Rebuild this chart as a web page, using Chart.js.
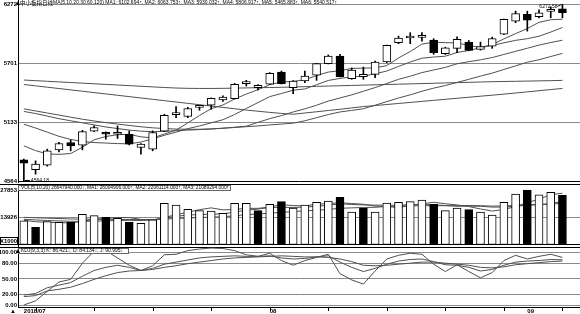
<!DOCTYPE html>
<html>
<head>
<meta charset="utf-8">
<script src="https://cdn.jsdelivr.net/npm/chart.js@4.4.1/dist/chart.umd.min.js"></script>
<style>
html, body { margin: 0; padding: 0; background: #fff; }
#lienzo { position: relative; width: 580px; height: 314px; overflow: hidden; background: #fff; }
#lienzo canvas { position: absolute; left: 0; }
.linea { position: absolute; height: 1px; background: #000; }
</style>
</head>
<body>
<div id="lienzo">
    <canvas id="chartPrecio" width="580" height="183" style="top:0px"></canvas>
    <div class="linea" style="top:184px;left:0;width:580px"></div>
    <canvas id="chartVolumen" width="580" height="62" style="top:185px"></canvas>
    <div class="linea" style="top:247px;left:0;width:580px"></div>
    <canvas id="chartKdj" width="580" height="67" style="top:247px"></canvas>
</div>
<script>
// sesiones del grafico (47 velas + un hueco a la derecha)
const sesiones = Array.from({ length: 48 }, (_, i) => String(i + 1));

// precios diarios
const apertura = [4773, 4677, 4722, 4869, 4940, 4914, 5049, 5037, 5020, 5020, 4892, 4876, 5049, 5210, 5191, 5280,
    5300, 5350, 5364, 5508, 5470, 5502, 5620, 5470, 5534, 5589, 5701, 5774, 5557, 5576, 5598, 5717,
    5903, 5949, 5954, 5928, 5797, 5849, 5909, 5839, 5871, 5986, 6112, 6176, 6154, 6205, 6231];
const maximo = [4780, 4763, 4876, 4943, 4965, 5058, 5100, 5043, 5100, 5052, 4930, 5052, 5213, 5287, 5280, 5300,
    5370, 5390, 5510, 5540, 5500, 5615, 5630, 5538, 5630, 5705, 5785, 5790, 5660, 5668, 5727, 5880,
    5967, 6000, 6000, 5942, 5860, 5961, 5925, 5909, 5957, 6132, 6208, 6208, 6220, 6250, 6272.58];
const minimo = [4564.18, 4635, 4712, 4850, 4860, 4869, 5045, 4972, 4979, 4917, 4828, 4860, 5045, 5181, 5180, 5251,
    5261, 5336, 5360, 5485, 5447, 5500, 5505, 5412, 5518, 5540, 5698, 5572, 5550, 5550, 5566, 5710,
    5894, 5894, 5919, 5791, 5790, 5807, 5825, 5832, 5849, 5980, 6096, 6015, 6143, 6144, 6144];
const cierre = [4741, 4732, 4860, 4931, 4908, 5046, 5085, 5020, 5026, 4923, 4924, 5037, 5203, 5216, 5268, 5286,
    5367, 5379, 5502, 5514, 5492, 5607, 5508, 5534, 5582, 5701, 5774, 5576, 5640, 5598, 5717, 5877,
    5948, 5955, 5960, 5807, 5855, 5935, 5829, 5865, 5942, 6128, 6185, 6121, 6192, 6211, 6192];

// medias moviles del precio
const ma5 = [4908, 4862, 4830, 4826, 4834, 4895, 4966, 4998, 5016, 5019, 4995, 4985, 5022, 5060, 5129, 5201,
    5267, 5302, 5360, 5408, 5450, 5498, 5524, 5530, 5545, 5586, 5620, 5633, 5655, 5658, 5661, 5682,
    5756, 5818, 5890, 5908, 5904, 5901, 5877, 5858, 5885, 5940, 5991, 6040, 6100, 6125, 6130];
const ma10 = [5117, 5080, 5040, 5000, 4970, 4950, 4940, 4935, 4930, 4927, 4945, 4975, 5010, 5040, 5074, 5100,
    5130, 5160, 5210, 5269, 5326, 5383, 5413, 5445, 5457, 5498, 5539, 5559, 5573, 5581, 5603, 5630,
    5674, 5717, 5754, 5765, 5773, 5809, 5828, 5855, 5877, 5902, 5926, 5942, 5966, 6006, 6050];
const ma20 = [5240, 5220, 5195, 5170, 5150, 5130, 5110, 5090, 5075, 5060, 5050, 5045, 5048, 5055, 5060, 5065,
    5070, 5078, 5088, 5098, 5135, 5170, 5200, 5235, 5265, 5300, 5340, 5370, 5400, 5435, 5470, 5510,
    5550, 5580, 5615, 5640, 5665, 5700, 5720, 5738, 5760, 5790, 5820, 5850, 5880, 5905, 5927];
const ma30 = [5265, 5245, 5225, 5205, 5185, 5165, 5148, 5132, 5118, 5105, 5092, 5082, 5075, 5070, 5068, 5068,
    5072, 5078, 5085, 5093, 5100, 5110, 5118, 5127, 5150, 5180, 5210, 5235, 5250, 5266, 5300, 5335,
    5370, 5400, 5435, 5465, 5490, 5520, 5550, 5581, 5610, 5645, 5680, 5715, 5739, 5770, 5800];
const ma60 = [5500, 5487, 5474, 5461, 5448, 5435, 5422, 5409, 5396, 5383, 5370, 5357, 5344, 5331, 5318, 5305,
    5292, 5279, 5266, 5253, 5242, 5231, 5221, 5213, 5225, 5237, 5249, 5261, 5274, 5287, 5297, 5307,
    5317, 5327, 5337, 5347, 5357, 5367, 5377, 5387, 5397, 5407, 5418, 5429, 5440, 5451, 5462];
const ma120 = [5543, 5537, 5531, 5525, 5519, 5513, 5507, 5501, 5495, 5489, 5483, 5477, 5471, 5466, 5463, 5462,
    5462, 5463, 5465, 5467, 5469, 5471, 5473, 5476, 5479, 5482, 5485, 5488, 5491, 5494, 5497, 5500,
    5503, 5506, 5509, 5512, 5515, 5518, 5521, 5524, 5527, 5529, 5531, 5533, 5535, 5537, 5540];

// volumen (x1000) y sus medias
const volumen = [12300, 8960, 11800, 11500, 11500, 15540, 14850, 14000, 13500, 11500, 11000, 12700, 21100, 20260, 18080, 17370,
    17200, 16050, 21100, 21100, 17370, 20600, 21930, 18740, 20260, 21600, 22280, 24150, 16700, 18580, 16700, 21270,
    21600, 21930, 22790, 20600, 17370, 18740, 17880, 16700, 15190, 21600, 25830, 27853, 25470, 26690, 25200];
const sesionesVolNegro = [1, 4, 7, 9, 20, 22, 27, 29, 35, 38, 43, 46];
const vma5 = [12500, 11800, 11500, 11300, 11200, 11860, 13040, 13480, 13880, 13880, 12970, 12540, 13960, 15310, 16630, 17900,
    18800, 17790, 17960, 18560, 18560, 19240, 20420, 19950, 19780, 20630, 20960, 21410, 21000, 20660, 19680, 19480,
    18970, 20020, 20860, 21640, 20860, 20290, 19480, 18260, 17180, 18020, 19440, 21440, 23190, 25490, 26210];
const vma10 = [13000, 12700, 12400, 12200, 12000, 12000, 12100, 12200, 12400, 12500, 12400, 12700, 13600, 14500, 15200, 15400,
    15600, 15800, 16600, 17600, 18200, 19000, 19100, 19000, 19200, 19600, 20100, 20900, 20500, 20300, 20200, 20200,
    20100, 20400, 20600, 20300, 20000, 19600, 19700, 19600, 19200, 19200, 19600, 20100, 20400, 21000, 22100];
const vma20 = [14000, 13800, 13600, 13400, 13200, 13100, 13000, 13000, 13000, 12900, 12900, 12900, 13100, 13400, 13700, 13900,
    14100, 14300, 14800, 15400, 15700, 16100, 16500, 16900, 17300, 17600, 18000, 18600, 18800, 19000, 19100, 19500,
    19700, 19800, 19900, 19900, 19900, 19900, 20000, 19900, 19700, 19800, 20000, 20400, 20500, 20700, 21100];

// KDJ
const kdjK = [19, 22, 33, 38, 43, 55, 66, 72, 76, 72, 66, 70, 78, 82, 86, 90,
    92, 93, 94, 93, 93, 94, 90, 88, 89, 92, 94, 82, 72, 64, 70, 78,
    84, 87, 88, 83, 77, 76, 72, 65, 68, 76, 82, 84, 85, 87, 86.4];
const kdjD = [16, 18, 27, 30, 34, 41, 49, 56, 62, 65, 66, 68, 72, 75, 79, 82,
    85, 88, 90, 91, 92, 93, 94, 93, 92, 92, 91, 88, 83, 76, 75, 76,
    78, 80, 82, 82, 80, 78, 76, 72, 71, 73, 77, 79, 81, 83, 84.1];
const kdjJ = [0, 8, 26, 44, 49, 80, 103, 104, 90, 76, 66, 75, 96, 97, 104, 107,
    109, 108, 104, 96, 93, 99, 85, 76, 85, 91, 97, 60, 48, 40, 65, 88,
    95, 99, 97, 78, 64, 77, 64, 52, 62, 85, 95, 88, 93, 97, 91];

// ejes y etiquetas
const ejePrecio = [4564, 5133, 5701, 6272];
const ejeVolumen = [0, 13926, 27853];
const etiquetasVolumen = ['', '13926', '27853'];
const unidadVolumen = 'X1000';
const ejeKdj = [0, 20, 50, 80, 100];
const etiquetasKdj = ['0.00', '20.00', '50.00', '80.00', '100.00'];
const etiquetasFecha = ['2018/07', '08', '09'];
const posicionesFecha = [0, 21, 43];

const tituloPrecio = ['中小板指日线', 'MA(5,10,20,30,60,120) MA1: 6102.694↑, MA2: 6063.753↑, MA3: 5930.032↑, MA4: 5806.917↑, MA5: 5465.883↑, MA6: 5540.517↑'];
const tituloVolumen = 'VOL(5,10,20) 26647940.000↓, MA1: 26004906.000↑, MA2: 22061114.000↑, MA3: 21089294.000↑';
const tituloKdj = 'KDJ(9,3,3) K: 86.421↓, D: 84.134↓, J: 90.995↓';

const fuenteNum = "'Liberation Sans', 'DejaVu Sans', sans-serif";
const colorLinea = '#505050';
const colorRejilla = '#8a8a8a';

function ejeX() {
    return { type: 'category', display: false, offset: true, grid: { display: false } };
}

function ejeY(min, max, valores, etiquetas, colores) {
    return {
        min: min,
        max: max,
        position: 'left',
        afterFit: (s) => { s.width = 18; s.paddingTop = 0; s.paddingBottom = 0; },
        afterBuildTicks: (s) => { s.ticks = valores.map(v => ({ value: v })); },
        ticks: {
            autoSkip: false,
            padding: 1,
            color: '#000',
            font: { family: fuenteNum, size: 6, weight: 'bold' },
            callback: (v, i) => etiquetas[i]
        },
        grid: { drawTicks: false, lineWidth: 1, color: (c) => colores[c.index] || 'transparent' },
        border: { display: true, color: '#000', width: 1 }
    };
}

function lineaMedia(datos) {
    return {
        type: 'line', data: datos, borderColor: colorLinea, borderWidth: 1,
        pointRadius: 0, tension: 0, fill: false, order: 3
    };
}

function opcionesBase(escalaY) {
    return {
        responsive: false,
        maintainAspectRatio: false,
        devicePixelRatio: 1,
        animation: false,
        layout: { padding: 0 },
        plugins: { legend: { display: false }, tooltip: { enabled: false } },
        scales: { x: ejeX(), y: escalaY }
    };
}

function textoCabecera(ctx, texto, x, y, ancho, fuente) {
    ctx.save();
    ctx.font = fuente;
    ctx.fillStyle = '#000';
    ctx.textAlign = 'left';
    ctx.textBaseline = 'middle';
    ctx.fillText(texto, x, y, ancho);
    ctx.restore();
}

function triangulo(ctx, x, y) {
    ctx.save();
    ctx.fillStyle = '#000';
    ctx.beginPath();
    ctx.moveTo(x - 2, y + 3);
    ctx.lineTo(x + 2, y + 3);
    ctx.lineTo(x, y - 1);
    ctx.closePath();
    ctx.fill();
    ctx.restore();
}

const cabeceraPrecio = {
    id: 'cabeceraPrecio',
    afterDraw(chart) {
        const ctx = chart.ctx;
        textoCabecera(ctx, tituloPrecio[0], 20, 3, 33, "6px 'Noto Sans CJK SC'");
        textoCabecera(ctx, tituloPrecio[1], 53, 3, 284, "5px 'Liberation Sans'");
        triangulo(ctx, 18, 2);

        // maximo y minimo del periodo
        const xs = chart.scales.x;
        const ys = chart.scales.y;
        const iMin = minimo.indexOf(Math.min(...minimo));
        const iMax = maximo.indexOf(Math.max(...maximo));
        ctx.save();
        ctx.strokeStyle = '#000';
        ctx.lineWidth = 1;
        ctx.fillStyle = '#000';
        ctx.font = "5px 'Liberation Sans'";
        ctx.textBaseline = 'middle';
        let x = xs.getPixelForValue(iMin);
        let y = ys.getPixelForValue(minimo[iMin]);
        ctx.beginPath();
        ctx.moveTo(x + 1, Math.round(y) - 0.5);
        ctx.lineTo(x + 6, Math.round(y) - 0.5);
        ctx.stroke();
        ctx.textAlign = 'left';
        ctx.fillText(minimo[iMin].toFixed(2), x + 7, y - 0.5);
        x = xs.getPixelForValue(iMax);
        y = ys.getPixelForValue(maximo[iMax]);
        ctx.beginPath();
        ctx.moveTo(x - 1, y);
        ctx.lineTo(x - 5, y + 2);
        ctx.stroke();
        ctx.textAlign = 'right';
        ctx.fillText(maximo[iMax].toFixed(2), x - 5, y + 2.5);
        ctx.restore();
    }
};

const cabeceraVolumen = {
    id: 'cabeceraVolumen',
    afterDraw(chart) {
        const ctx = chart.ctx;
        const ys = chart.scales.y;
        ctx.save();
        ctx.fillStyle = '#fff';
        ctx.fillRect(19, 0, 211, 5);
        ctx.strokeStyle = '#666';
        ctx.strokeRect(18.5, 0.5, 212, 5);
        ctx.restore();
        textoCabecera(ctx, tituloVolumen, 21, 3, 208, "5px 'Liberation Sans'");

        // unidad del volumen junto al cero
        const y0 = Math.round(ys.getPixelForValue(ejeVolumen[0]));
        ctx.save();
        ctx.strokeStyle = '#000';
        ctx.lineWidth = 1;
        ctx.strokeRect(0.5, y0 - 7.5, 17, 7);
        ctx.fillStyle = '#000';
        ctx.font = "bold 6px " + fuenteNum;
        ctx.textAlign = 'right';
        ctx.textBaseline = 'middle';
        ctx.fillText(unidadVolumen, 17, y0 - 4, 17);
        ctx.restore();
    }
};

const cabeceraKdj = {
    id: 'cabeceraKdj',
    afterDraw(chart) {
        const ctx = chart.ctx;
        const area = chart.chartArea;
        const xs = chart.scales.x;
        ctx.save();
        ctx.fillStyle = '#fff';
        ctx.fillRect(19, 1, 109, 5);
        ctx.strokeStyle = '#666';
        ctx.strokeRect(18.5, 1.5, 110, 5);
        ctx.restore();
        textoCabecera(ctx, tituloKdj, 21, 4, 106, "5px 'Liberation Sans'");
        triangulo(ctx, 18, 3);

        // eje de fechas
        ctx.save();
        ctx.fillStyle = '#000';
        ctx.fillRect(area.left, Math.round(area.bottom), area.right - area.left, 1);
        for (let i = 1; i < cierre.length; i += 5) {
            const x = Math.round(xs.getPixelForValue(i)) + 0.5;
            ctx.fillRect(x - 0.5, Math.round(area.bottom) + 1, 1, 3);
        }
        ctx.font = "bold 6px " + fuenteNum;
        ctx.textAlign = 'left';
        ctx.textBaseline = 'middle';
        etiquetasFecha.forEach((txt, k) => {
            ctx.fillText(txt, xs.getPixelForValue(posicionesFecha[k]), area.bottom + 4.5);
        });
        ctx.fillText('▲', 10, area.bottom + 4.5);
        ctx.restore();
    }
};

document.addEventListener('DOMContentLoaded', () => {
    new Chart(document.getElementById('chartPrecio'), {
        type: 'bar',
        data: {
            labels: sesiones,
            datasets: [
                {
                    type: 'bar',
                    data: apertura.map((o, i) => [o, cierre[i]]),
                    backgroundColor: apertura.map((o, i) => cierre[i] < o ? '#000' : '#fff'),
                    borderColor: '#000',
                    borderWidth: 1,
                    borderSkipped: false,
                    barThickness: 8,
                    minBarLength: 2,
                    grouped: false,
                    order: 0
                },
                {
                    type: 'bar',
                    data: minimo.map((l, i) => [l, maximo[i]]),
                    backgroundColor: '#000',
                    borderWidth: 0,
                    barThickness: 1,
                    grouped: false,
                    order: 1
                },
                lineaMedia(ma5), lineaMedia(ma10), lineaMedia(ma20),
                lineaMedia(ma30), lineaMedia(ma60), lineaMedia(ma120)
            ]
        },
        options: opcionesBase(ejeY(4549.5, 6315.4, ejePrecio, ejePrecio.map(String),
            ['#000', colorRejilla, colorRejilla, colorRejilla])),
        plugins: [cabeceraPrecio]
    });

    new Chart(document.getElementById('chartVolumen'), {
        type: 'bar',
        data: {
            labels: sesiones,
            datasets: [
                {
                    type: 'bar',
                    data: volumen,
                    backgroundColor: volumen.map((v, i) => sesionesVolNegro.includes(i) ? '#000' : '#fff'),
                    borderColor: '#000',
                    borderWidth: 1,
                    borderSkipped: false,
                    barThickness: 8,
                    order: 0
                },
                lineaMedia(vma5), lineaMedia(vma10), lineaMedia(vma20)
            ]
        },
        options: opcionesBase(ejeY(-1013, 30385, ejeVolumen, etiquetasVolumen,
            ['#000', colorRejilla, 'transparent'])),
        plugins: [cabeceraVolumen]
    });

    const opcionesKdj = opcionesBase(ejeY(-3.8, 110.9, ejeKdj, etiquetasKdj,
        [colorRejilla, colorRejilla, colorRejilla, colorRejilla, colorRejilla]));
    opcionesKdj.layout = { padding: { bottom: 7 } };
    new Chart(document.getElementById('chartKdj'), {
        type: 'line',
        data: {
            labels: sesiones,
            datasets: [lineaMedia(kdjK), lineaMedia(kdjD), lineaMedia(kdjJ)]
        },
        options: opcionesKdj,
        plugins: [cabeceraKdj]
    });
});
</script>
</body>
</html>
